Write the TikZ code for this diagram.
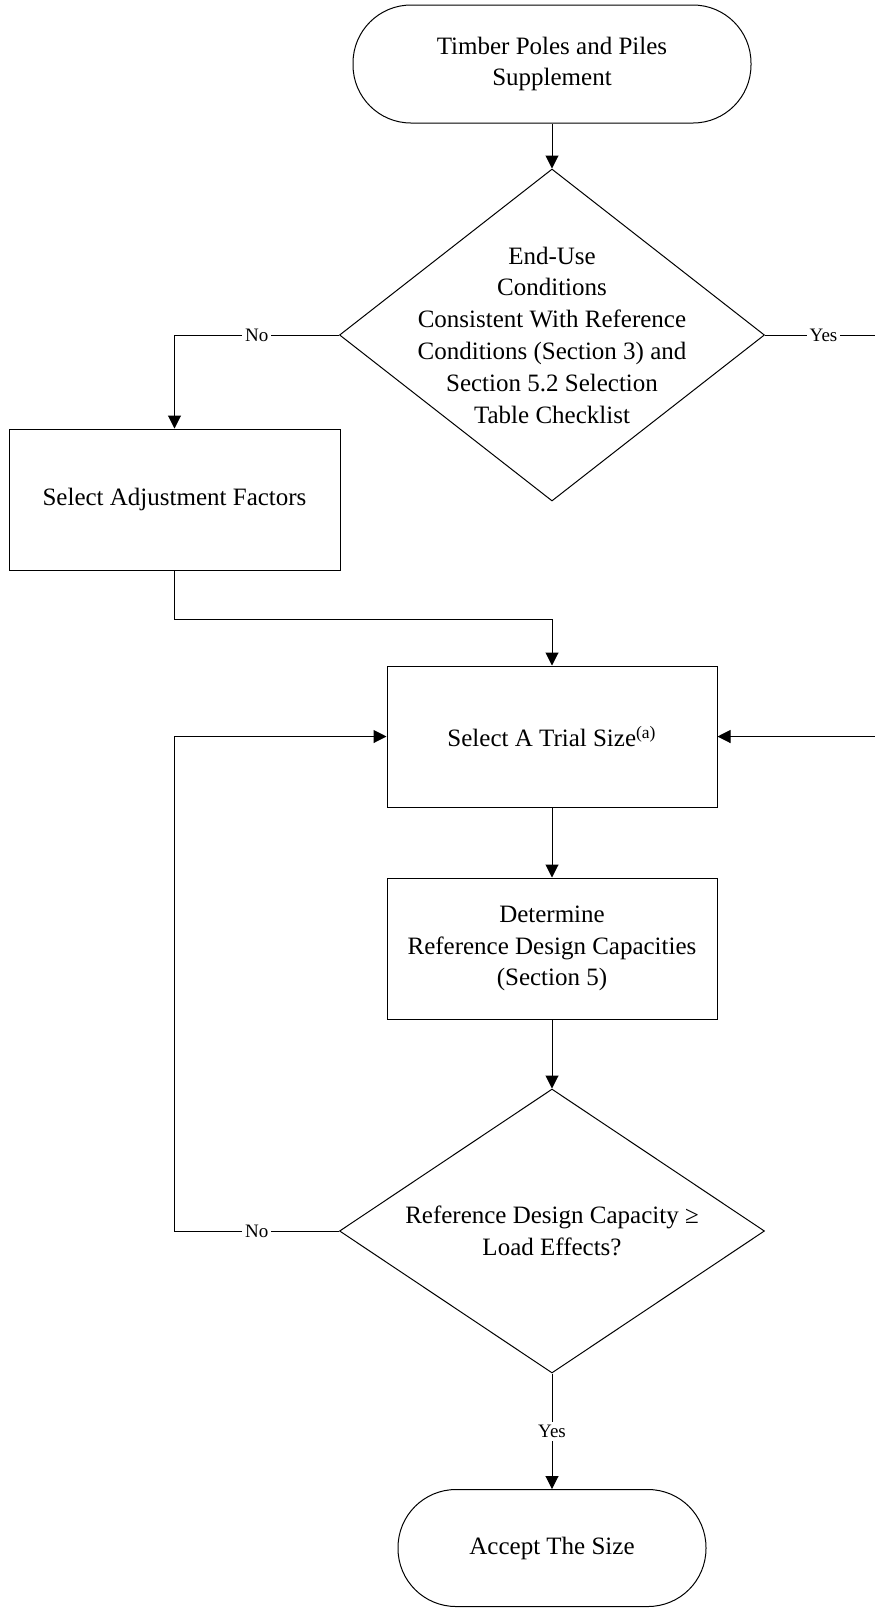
\documentclass[tikz,border=0pt]{standalone}
\usepackage{fontspec}
\setmainfont{Liberation Serif}
\usetikzlibrary{arrows.meta,positioning,shapes.geometric}
\definecolor{Ink}{HTML}{000000}
\tikzset{
  terminal box/.style={draw=Ink, rounded corners=29pt, line width=0.5pt, inner sep=0pt,
    font=\fontsize{12.5}{15.9}\selectfont, align=center, text=Ink},
  process box/.style={draw=Ink, line width=0.5pt, minimum width=165pt, minimum height=70.5pt,
    inner sep=0pt, font=\fontsize{12.5}{15.9}\selectfont, align=center, text=Ink},
  decision box/.style={draw=Ink, diamond, line width=0.5pt, inner sep=0pt, minimum width=212.5pt},
  box text/.style={font=\fontsize{12.5}{15.9}\selectfont, align=center, text=Ink, inner sep=0pt},
  branch label/.style={font=\fontsize{9.5}{11}\selectfont, fill=white, inner sep=1.5pt, text=Ink},
  flow/.style={-{Triangle[length=6.5pt,width=6.5pt]}, draw=Ink, line width=0.5pt},
}

\begin{document}
\begin{tikzpicture}[x=0.5pt, y=-0.5pt]
  \useasboundingbox (0,0) rectangle (874,1608);

  % Main column: terminals, checks and process steps.
  \node[terminal box, minimum width=199pt, minimum height=59pt] (start) at (552,64) {Timber Poles and Piles\\Supplement};
  \node[decision box, minimum height=166pt] (check) at (552,335) {};
  \node[box text] at (check.center) {End-Use\\Conditions\\Consistent With Reference\\Conditions (Section 3) and\\Section 5.2 Selection\\Table Checklist};
  \node[process box, minimum width=165.5pt] (adjust) at (174.5,499.5) {Select Adjustment Factors};
  \node[process box] (trial) at (552,736.5) {Select A Trial Size\textsuperscript{(a)}};
  \node[process box] (design) at (552,948.5) {Determine\\Reference Design Capacities\\(Section 5)};
  \node[decision box, minimum height=142pt] (capacity) at (552,1231) {};
  \node[box text] at (capacity.center) {Reference Design Capacity ≥\\Load Effects?};
  \node[terminal box, minimum width=154pt, minimum height=58.5pt] (accept) at (552,1548) {Accept The Size};

  % Turning points of the routed connectors.
  \coordinate (merge) at (552,619);
  \coordinate (yesturn) at (882,335);
  \coordinate (retry) at (174.5,1231);

  % Connectors, with the branch labels set on the lines.
  \draw[flow] (start.south) -- (check.north);
  \draw[flow] (check.west) -| node[branch label, pos=0.25] {No} (adjust.north);
  \draw[flow] (check.east) -- node[branch label] {Yes} (yesturn) |- (trial.east);
  \draw[flow] (adjust.south) |- (merge) -- (trial.north);
  \draw[flow] (trial.south) -- (design.north);
  \draw[flow] (design.south) -- (capacity.north);
  \draw[flow] (capacity.west) -- node[branch label] {No} (retry) |- (trial.west);
  \draw[flow] (capacity.south) -- node[branch label] {Yes} (accept.north);
\end{tikzpicture}
\end{document}
